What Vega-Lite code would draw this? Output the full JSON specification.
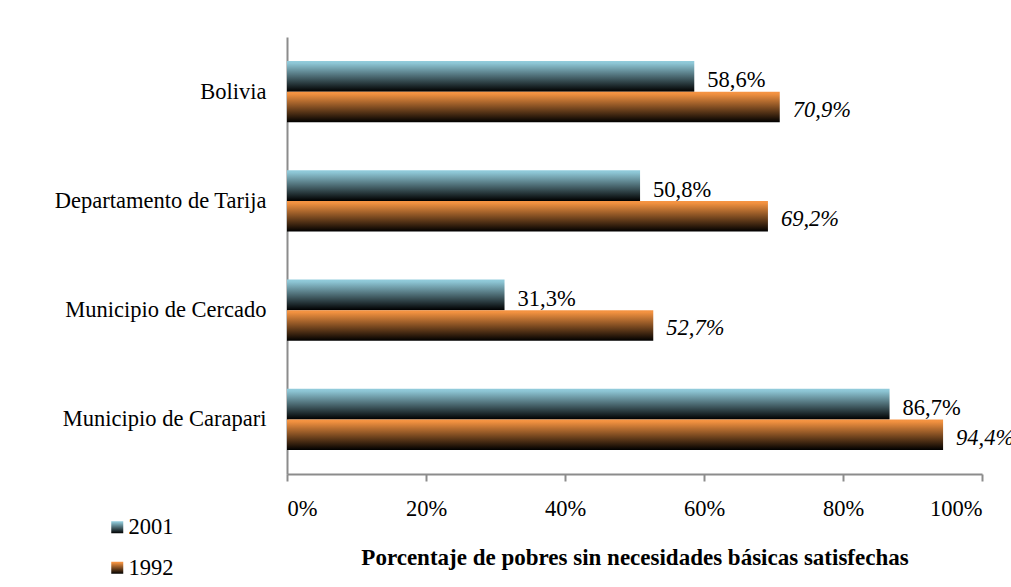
{
  "$schema": "https://vega.github.io/schema/vega-lite/v6.json",
  "width": 695,
  "height": 437,
  "autosize": {"type": "none"},
  "padding": {"left": 287, "top": 37, "right": 29, "bottom": 113},
  "background": "white",
  "config": {
    "font": "Liberation Serif",
    "view": {"stroke": null},
    "locale": {"number": {"decimal": ",", "thousands": ".", "grouping": [3], "currency": ["", ""]}}
  },
  "data": {
    "values": [
      {"region": "Bolivia", "serie": "2001", "valor": 0.586},
      {"region": "Bolivia", "serie": "1992", "valor": 0.709},
      {"region": "Departamento de Tarija", "serie": "2001", "valor": 0.508},
      {"region": "Departamento de Tarija", "serie": "1992", "valor": 0.692},
      {"region": "Municipio de Cercado", "serie": "2001", "valor": 0.313},
      {"region": "Municipio de Cercado", "serie": "1992", "valor": 0.527},
      {"region": "Municipio de Carapari", "serie": "2001", "valor": 0.867},
      {"region": "Municipio de Carapari", "serie": "1992", "valor": 0.944}
    ]
  },
  "encoding": {
    "y": {
      "field": "region",
      "type": "nominal",
      "scale": {
        "domain": ["Bolivia", "Departamento de Tarija", "Municipio de Cercado", "Municipio de Carapari"],
        "paddingInner": 0.44,
        "paddingOuter": 0.22
      },
      "axis": {
        "title": null,
        "ticks": false,
        "labelFont": "Liberation Serif",
        "labelFontSize": 22.5,
        "labelColor": "#000000",
        "labelPadding": 21,
        "domainColor": "#8c8c8c",
        "domainWidth": 2,
        "grid": false,
        "labelLimit": 400
      }
    },
    "yOffset": {
      "field": "serie",
      "type": "nominal",
      "scale": {"domain": ["2001", "1992"]}
    },
    "x": {
      "field": "valor",
      "type": "quantitative",
      "scale": {"domain": [0, 1], "nice": false},
      "axis": {
        "values": [0, 0.2, 0.4, 0.6, 0.8, 1],
        "format": ".0%",
        "grid": false,
        "title": "Porcentaje de pobres sin necesidades básicas satisfechas",
        "titleFont": "Liberation Serif",
        "titleFontSize": 23,
        "titleFontWeight": "bold",
        "titleColor": "#000000",
        "titlePadding": 27,
        "labelFont": "Liberation Serif",
        "labelFontSize": 22.5,
        "labelColor": "#000000",
        "labelPadding": 16,
        "tickSize": 7,
        "tickColor": "#8c8c8c",
        "tickWidth": 2,
        "domainColor": "#8c8c8c",
        "domainWidth": 2
      }
    }
  },
  "layer": [
    {
      "mark": {"type": "bar"},
      "encoding": {
        "color": {
          "field": "serie",
          "type": "nominal",
          "scale": {
            "domain": ["2001", "1992"],
            "range": [
              {"expr": "{gradient: 'linear', x1: 0, y1: 0, x2: 0, y2: 1, stops: [{offset: 0, color: '#93CDDD'}, {offset: 0.08, color: '#8CC4D3'}, {offset: 1, color: '#000000'}]}"},
              {"expr": "{gradient: 'linear', x1: 0, y1: 0, x2: 0, y2: 1, stops: [{offset: 0, color: '#F79646'}, {offset: 0.08, color: '#F0903F'}, {offset: 1, color: '#000000'}]}"}
            ]
          },
          "legend": {
            "orient": "none",
            "legendX": -181,
            "legendY": 479,
            "title": null,
            "padding": 0,
            "symbolType": "square",
            "symbolSize": 144,
            "symbolStrokeWidth": 0,
            "symbolOpacity": 1,
            "labelFont": "Liberation Serif",
            "labelFontSize": 22.5,
            "labelColor": "#000000",
            "labelOffset": 0,
            "rowPadding": 17.5
          }
        }
      }
    },
    {
      "transform": [{"filter": "datum.serie == '2001'"}],
      "mark": {"type": "text", "align": "left", "baseline": "middle", "dx": 13, "dy": 4, "font": "Liberation Serif", "fontSize": 22.5, "color": "#000000"},
      "encoding": {
        "text": {"field": "valor", "type": "quantitative", "format": ".1%"}
      }
    },
    {
      "transform": [{"filter": "datum.serie == '1992'"}],
      "mark": {"type": "text", "align": "left", "baseline": "middle", "dx": 13, "dy": 3, "font": "Liberation Serif", "fontSize": 22.5, "fontStyle": "italic", "color": "#000000"},
      "encoding": {
        "text": {"field": "valor", "type": "quantitative", "format": ".1%"}
      }
    }
  ]
}
